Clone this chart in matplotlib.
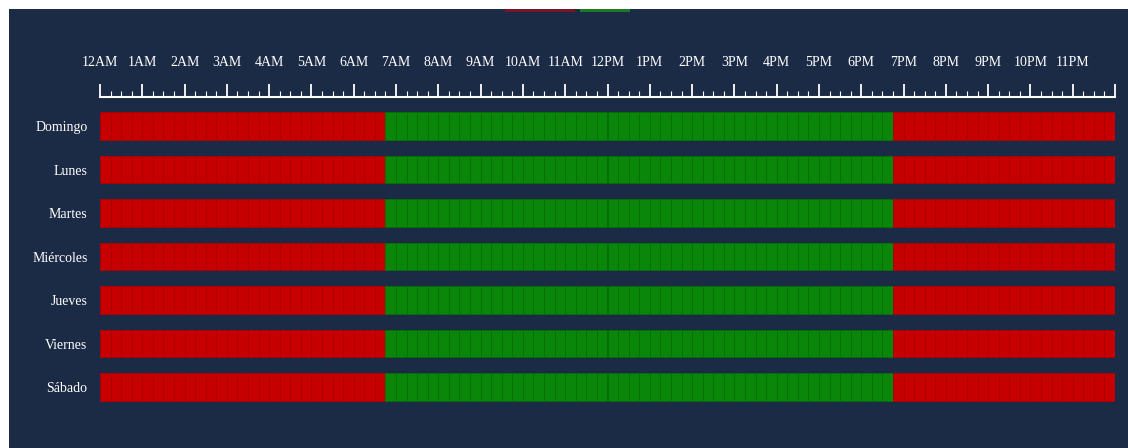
import matplotlib
matplotlib.use('Agg')
import matplotlib.pyplot as plt
from matplotlib.patches import Rectangle
import numpy as np

# Weekly schedule, one row per day, quarter-hour resolution
days = ['Domingo', 'Lunes', 'Martes', 'Miércoles', 'Jueves', 'Viernes', 'Sábado']
open_start = [6.75, 6.75, 6.75, 6.75, 6.75, 6.75, 6.75]   # hour the active period begins
open_end = [18.75, 18.75, 18.75, 18.75, 18.75, 18.75, 18.75]  # hour it ends
hour_labels = ['12AM', '1AM', '2AM', '3AM', '4AM', '5AM', '6AM', '7AM', '8AM', '9AM',
               '10AM', '11AM', '12PM', '1PM', '2PM', '3PM', '4PM', '5PM', '6PM', '7PM',
               '8PM', '9PM', '10PM', '11PM']

BG = '#1b2a45'
RED, RED_EDGE = '#c60000', '#b00000'
GREEN, GREEN_EDGE = '#0a860a', '#027202'

plt.rcParams['font.family'] = ['Liberation Serif', 'DejaVu Serif']

W, H = 1128, 448
fig = plt.figure(figsize=(W / 100, H / 100), dpi=100, facecolor='white')

# dark panel with a thin white margin on top and left
fig.patches.append(Rectangle((9 / W, 0), 1 - 9 / W, 1 - 9 / H, transform=fig.transFigure,
                             facecolor=BG, edgecolor='none', zorder=-10))
# legend swatches clipped by the top edge
fig.patches.append(Rectangle((505 / W, 1 - 12 / H), 70 / W, 3 / H, transform=fig.transFigure,
                             facecolor='#7a1525', edgecolor='none', zorder=-5))
fig.patches.append(Rectangle((580 / W, 1 - 12 / H), 50 / W, 3 / H, transform=fig.transFigure,
                             facecolor='#1a7a25', edgecolor='none', zorder=-5))

ax = fig.add_axes([100 / W, (H - 430.5) / H, 1015 / W, 333.5 / H])
ax.set_facecolor('none')

quarters = np.arange(0, 24, 0.25)
for i, day in enumerate(days):
    active = (quarters >= open_start[i]) & (quarters < open_end[i])
    faces = np.where(active, GREEN, RED)
    edges = np.where(active, GREEN_EDGE, RED_EDGE)
    ax.bar(quarters, 0.64, width=0.25, bottom=i - 0.32, align='edge',
           color=faces, edgecolor=edges, linewidth=0.6)

ax.set_xlim(0, 24)
ax.set_ylim(7, -0.667)

ax.xaxis.tick_top()
ax.set_xticks(np.arange(0, 25))
ax.set_xticklabels(hour_labels + [''])
ax.set_xticks(quarters[quarters % 1 != 0], minor=True)
ax.tick_params(axis='x', which='major', colors='white', length=9.5, width=1.3,
               pad=11, labelsize=10)
ax.tick_params(axis='x', which='minor', colors='white', length=4.3, width=0.8)

ax.set_yticks(range(len(days)))
ax.set_yticklabels(days)
ax.tick_params(axis='y', length=0, pad=9, labelsize=10, labelcolor='white')

for side in ['bottom', 'left', 'right']:
    ax.spines[side].set_visible(False)
ax.spines['top'].set_color('white')
ax.spines['top'].set_linewidth(1.5)

fig.savefig('out.png', dpi=100, facecolor=fig.get_facecolor())
